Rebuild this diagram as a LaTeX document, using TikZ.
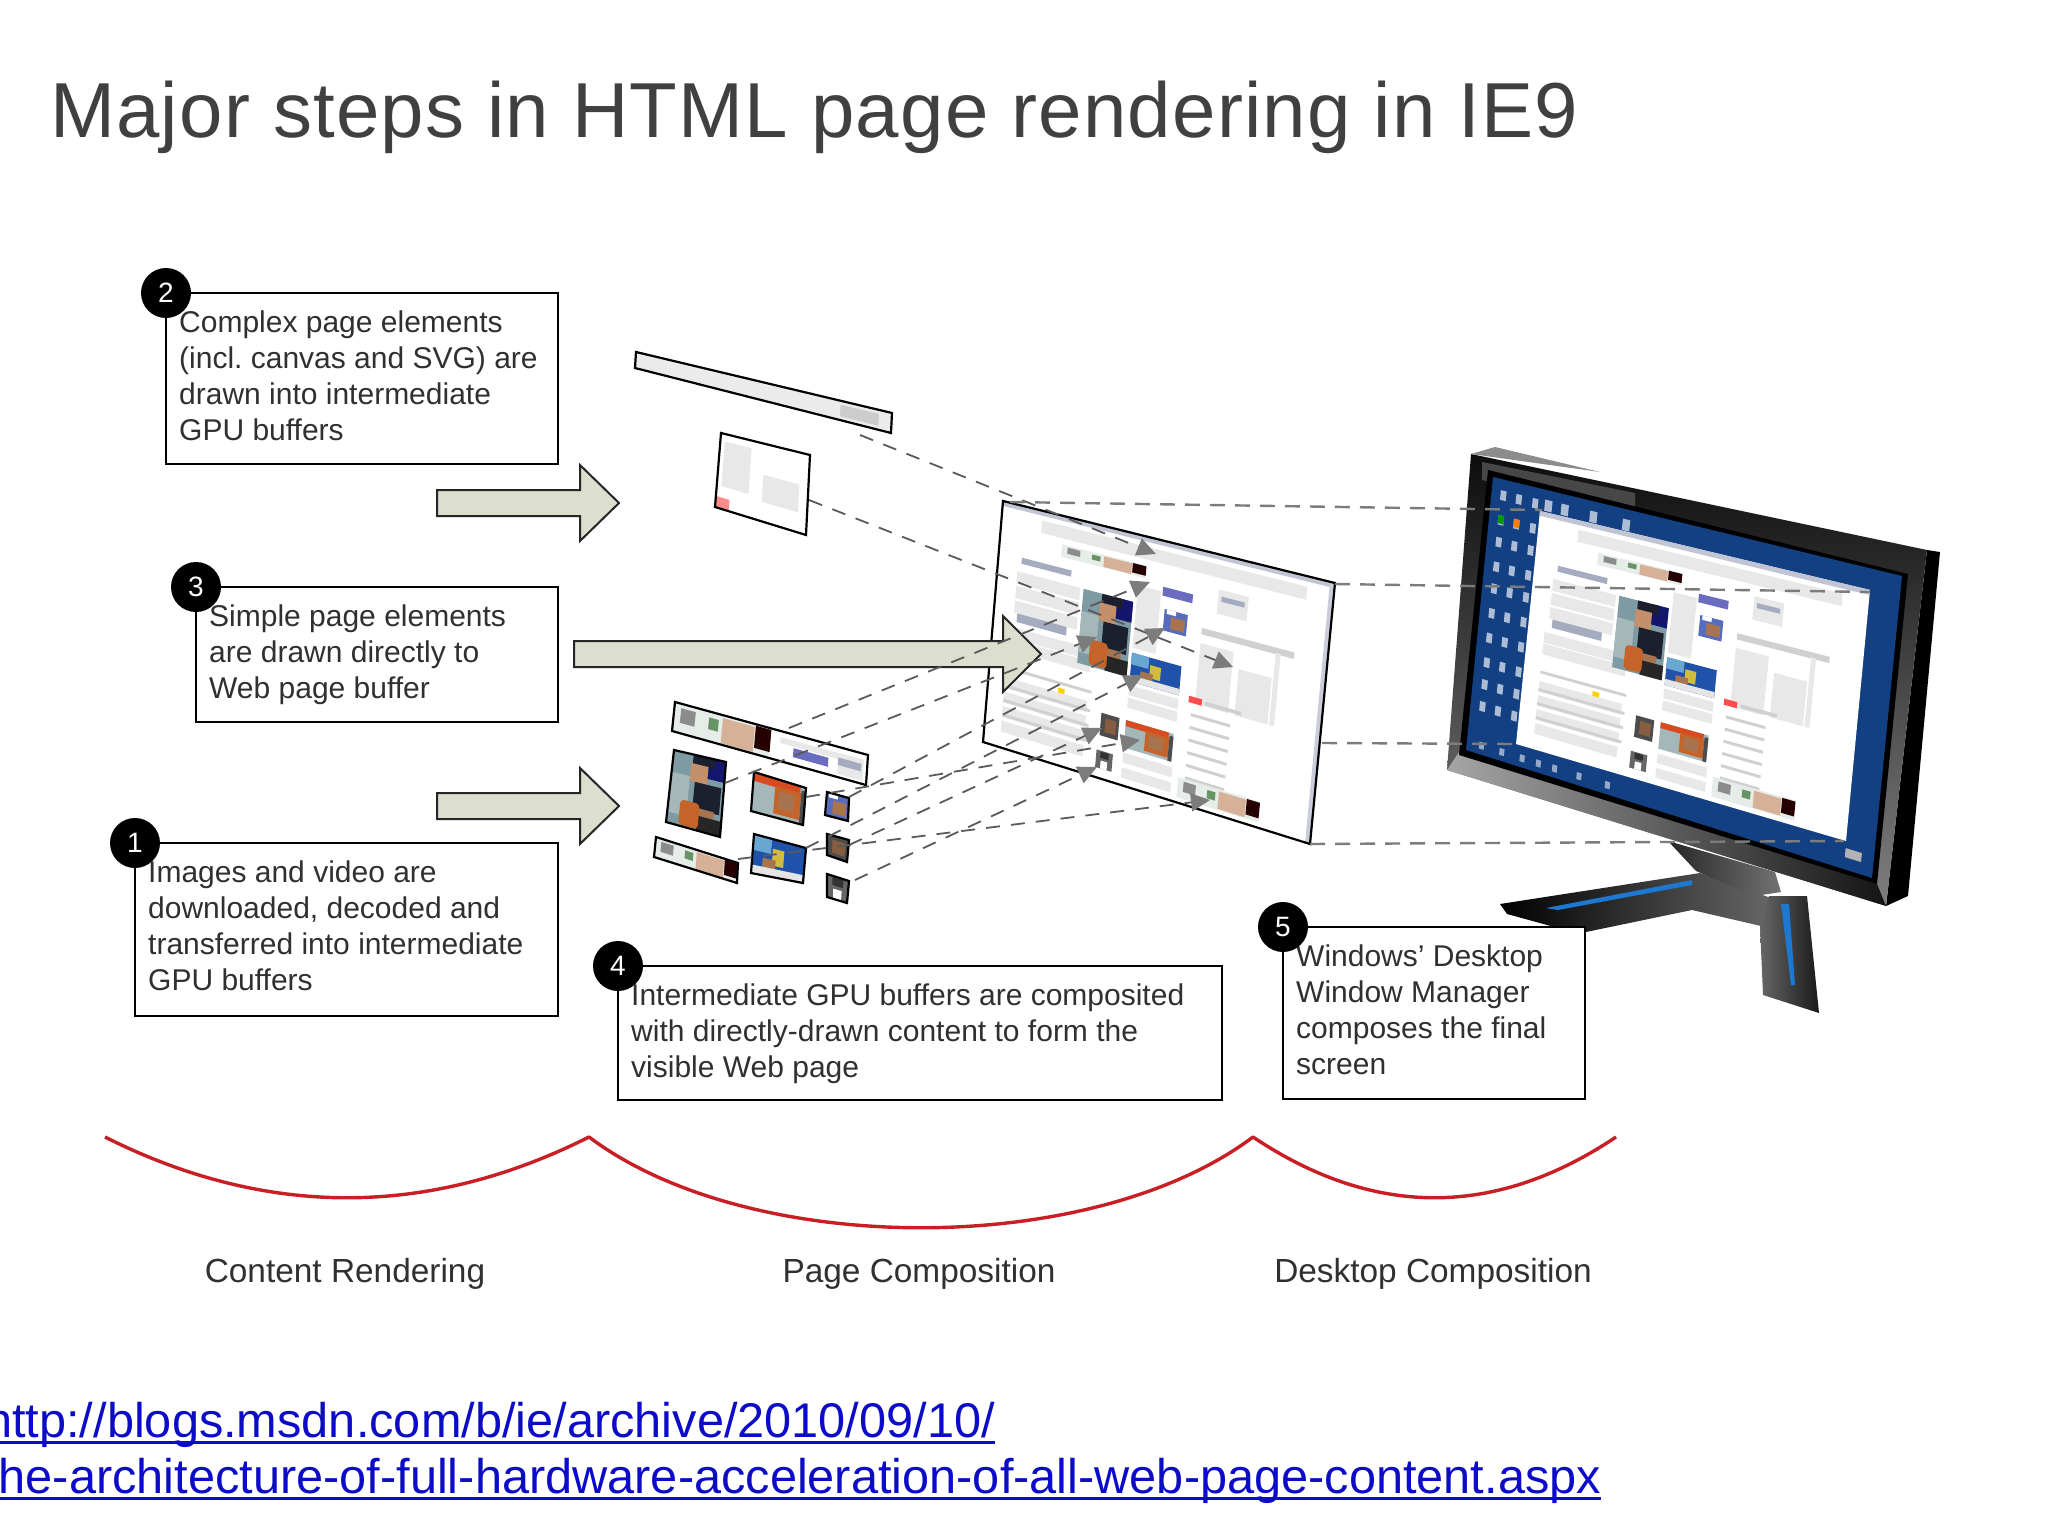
\documentclass[tikz,border=0pt]{standalone}
\usepackage{fontspec}
\setmainfont{Liberation Sans}
\usetikzlibrary{calc,arrows.meta}
\frenchspacing

\definecolor{titleink}{HTML}{404040}
\definecolor{boxink}{HTML}{303030}
\definecolor{arrowfill}{HTML}{DDDFCE}
\definecolor{linkblue}{HTML}{0B0BC8}
\definecolor{curvered}{HTML}{C81E24}
\definecolor{dashink}{HTML}{5A5A5A}
\definecolor{tipgray}{HTML}{7C7C7C}
\definecolor{screenblue}{HTML}{124083}
\definecolor{txtblock}{HTML}{E8E8E8}
\definecolor{txtline}{HTML}{D0D0D0}
\definecolor{txthead}{HTML}{A6ACC0}
\definecolor{skin}{HTML}{C4906C}
\definecolor{skindark}{HTML}{A87450}
\definecolor{ballorange}{HTML}{C4642A}
\definecolor{jersey}{HTML}{1C1F2E}
\definecolor{wallgray}{HTML}{7E9AA2}
\definecolor{walllight}{HTML}{A4B8BA}
\definecolor{photored}{HTML}{D84A20}
\definecolor{photoblue}{HTML}{1F52A8}
\definecolor{photosky}{HTML}{6AA6D2}
\definecolor{photoyellow}{HTML}{D2BC3E}
\definecolor{stripeblue}{HTML}{1C78D0}
\definecolor{btnpurple}{HTML}{6A6CC0}
\definecolor{bannerbg}{HTML}{E6ECE8}

% point (u,v) of the current frame, and a filled patch in it
\def\fr{p}
\newcommand\fq[2]{($($(\fr TL)!#1!(\fr TR)$)!#2!($(\fr BL)!#1!(\fr BR)$)$)}
\newcommand\patch[5]{\fill[#1] \fq{#2}{#3} -- \fq{#4}{#3} -- \fq{#4}{#5} -- \fq{#2}{#5} -- cycle;}
\newcommand\setframe[4]{\coordinate (pTL) at (#1); \coordinate (pTR) at (#2); \coordinate (pBR) at (#3); \coordinate (pBL) at (#4);}
\newcommand\photo[5]{\path \fq{#2}{#3} coordinate (qTL) \fq{#4}{#3} coordinate (qTR)
  \fq{#2}{#5} coordinate (qBL) \fq{#4}{#5} coordinate (qBR); \def\fr{q} #1 \def\fr{p}}
\newcommand\frameline{\draw[black, line width=2.2pt] (pTL) -- (pTR) -- (pBR) -- (pBL) -- cycle;}

% the pictures on the page
\newcommand\imgplayer{\patch{wallgray}{0}{0}{1}{1} \patch{walllight}{0}{.3}{.35}{.85}
  \patch{jersey!70!blue}{.65}{0}{1}{.28} \patch{jersey}{.38}{0}{.8}{.13} \patch{skin}{.35}{.12}{.68}{.36}
  \patch{jersey}{.45}{.36}{.95}{.72} \patch{skindark}{.35}{.7}{.85}{.8}
  \patch{black!85}{.55}{.8}{1}{1} \fill[ballorange, rounded corners=4pt] \fq{.22}{.64} -- \fq{.58}{.64} -- \fq{.58}{.98} -- \fq{.22}{.98} -- cycle;}
\newcommand\imgred{\patch{walllight}{0}{0}{1}{1} \patch{photored}{0}{0}{.9}{.22}
  \patch{ballorange}{.42}{.18}{.92}{.9} \patch{skindark}{.5}{.3}{.8}{.75} \patch{black!70}{.92}{.1}{1}{1}}
\newcommand\imgblue{\patch{photoblue}{0}{0}{1}{1} \patch{photosky}{0}{0}{.35}{.4}
  \patch{photoyellow}{.38}{.25}{.6}{.7} \patch{skindark}{.2}{.55}{.45}{.8} \patch{white!80!gray}{0}{.78}{1}{1}}
\newcommand\imgkid{\patch{wallgray!70!blue}{0}{0}{1}{1} \patch{skindark}{.3}{.3}{.9}{.85} \patch{white!70}{.1}{0}{.5}{.2}}
\newcommand\imgface{\patch{black!70}{0}{0}{1}{1} \patch{skindark!80!black}{.25}{.2}{.85}{.8}}
\newcommand\imgman{\patch{black!60}{0}{0}{1}{1} \patch{white!65}{.3}{.55}{.7}{1} \patch{black!80}{.25}{.05}{.75}{.4}}
\newcommand\imgbanner{\patch{bannerbg}{0}{0}{1}{1} \patch{black!45}{.07}{.15}{.22}{.65}
  \patch{green!30!black!60}{.36}{.2}{.46}{.6} \patch{skin!70!white}{.5}{.1}{.83}{.95} \patch{black!85!red}{.84}{.05}{1}{.8}}

\newcommand\webpage{\patch{white}{0}{0}{1}{1}
  \patch{txthead!70!white}{0}{0}{1}{.02}
  \patch{txtblock}{.12}{.04}{.92}{.09}
  \foreach \v in {.27,.33,.39} {\patch{txtblock}{.06}{\v}{.25}{\v+.05}}
  \patch{txthead}{.07}{.21}{.22}{.235}
  \patch{txthead}{.07}{.44}{.22}{.475}
  \foreach \v in {.5,.55,.71,.77,.83,.89} {\patch{txtblock}{.05}{\v}{.3}{\v+.045}}
  \foreach \v in {.665,.74,.80,.86} {\patch{txtline}{.05}{\v}{.31}{\v+.012}}
  \foreach \v in {.6,.65,.87,.93} {\patch{txtblock}{.42}{\v}{.57}{\v+.04}}
  \patch{txtblock}{.42}{.2}{.49}{.45}
  \foreach \v in {.64,.69,.74,.79,.84,.89} {\patch{txtline}{.61}{\v}{.73}{\v+.012}}
  \patch{txtline}{.62}{.3}{.9}{.325}
  \patch{txtblock}{.62}{.36}{.72}{.6}
  \patch{txtblock}{.74}{.42}{.84}{.6}
  \patch{red!70!white}{.6}{.575}{.64}{.6}
  \patch{txtline}{.65}{.58}{.76}{.595}
  \patch{txtblock}{.845}{.32}{.86}{.6}
  \patch{btnpurple}{.495}{.18}{.585}{.215}
  \patch{txtblock}{.66}{.135}{.75}{.23} \patch{txthead}{.67}{.16}{.74}{.18}
  \patch{yellow!70!orange}{.21}{.69}{.23}{.71}
  \photo{\imgbanner}{.185}{.115}{.44}{.165}
  \photo{\imgplayer}{.26}{.27}{.41}{.57}
  \photo{\imgkid}{.505}{.265}{.575}{.35}
  \photo{\imgblue}{.42}{.47}{.57}{.585}
  \photo{\imgred}{.42}{.74}{.565}{.85}
  \photo{\imgface}{.345}{.74}{.40}{.83}
  \photo{\imgman}{.34}{.89}{.39}{.96}
  \photo{\imgbanner}{.59}{.9}{.84}{.98}}

\tikzset{
  textbox/.style={draw=black, line width=2pt, fill=white, anchor=north west, inner sep=0pt, outer sep=0pt},
  boxtext/.style={anchor=north west, inner sep=0pt, align=left, text=boxink, font=\fontsize{30}{36}\selectfont},
  numdot/.style={circle, fill=black, inner sep=0pt, minimum size=50pt, text=white, font=\fontsize{28}{30}\selectfont},
  flowarrow/.style={draw=black!85, line width=2pt, fill=arrowfill, line join=miter},
  steplabel/.style={inner sep=0pt, anchor=base, text=boxink, font=\fontsize{33.4}{36}\selectfont},
  linktext/.style={inner sep=0pt, anchor=base west, text=linkblue, font=\fontsize{48.7}{56}\selectfont},
  dashline/.style={draw=dashink, line width=1.8pt, dash pattern=on 14pt off 11pt, -{Triangle[length=19pt,width=18pt,color=tipgray,fill=tipgray]}},
  dashplain/.style={draw=tipgray, line width=2.4pt, dash pattern=on 15pt off 10pt}
}

\begin{document}
\begin{tikzpicture}[x=1pt, y=-1pt]
  \useasboundingbox (0,0) rectangle (2048,1536);

  \node[anchor=base west, inner sep=0pt, text=titleink, font=\fontsize{78}{90}\selectfont\addfontfeature{LetterSpace=1.6}] (title) at (50,138) {Major steps in HTML page rendering in IE9};

  % monitor: stand first, then the screen
  \shade[left color=black, right color=black!60] (1500,904) -- (1700,873) -- (1771,898) -- (1761,926) -- (1692,910) -- (1586,932) -- (1558,928) -- (1507,914) -- cycle;
  \fill[stripeblue] (1546,908) -- (1692,880) -- (1692,885) -- (1558,910) -- cycle;
  \shade[left color=black!85, right color=black!55] (1668,841) -- (1775,872) -- (1781,892) -- (1755,896) -- (1696,871) -- cycle;
  \shade[left color=black!60, right color=black!90] (1769,896) -- (1807,896) -- (1819,1013) -- (1763,995) -- (1760,926) -- cycle;
  \fill[stripeblue] (1781,904) -- (1789,904) -- (1795,985) -- (1791,985) -- cycle;
  \fill[black] (1927,550) -- (1940,552) -- (1908,896) -- (1886,906) -- cycle;
  \shade[top color=black!95, bottom color=black!50] (1471,454) -- (1927,550) -- (1886,906) -- (1447,770) -- cycle;
  \shade[left color=black!35, right color=black!92] (1447,770) -- (1459,752) -- (1877,884) -- (1886,906) -- cycle;
  \fill[black!72] (1482,462) -- (1635,493) -- (1635,513) -- (1482,480) -- cycle;
  \fill[black!45] (1495,447) -- (1600,472) -- (1471,454) -- cycle;
  \fill[black] (1488,470) -- (1908,574) -- (1877,884) -- (1459,755) -- cycle;
  \setframe{1493,477}{1902,576}{1872,878}{1466,750}
  \patch{screenblue}{0}{0}{1}{1}
  \foreach \v in {.04,.13,.21,.3,.38,.47,.56,.65,.73,.81} {
    \foreach \u in {.022,.06,.1} {\patch{white!65!screenblue}{\u}{\v}{\u+.014}{\v+.035}}}
  \foreach \u/\c in {.022/green!60!black,.06/orange} {\patch{\c}{\u}{.13}{\u+.014}{.16}}
  \foreach \u in {.13,.17,.24,.32} {\patch{white!65!screenblue}{\u}{.035}{\u+.018}{.075}}
  \foreach \u in {.03,.08,.13,.17,.21,.27,.34} {\patch{white!55!screenblue}{\u}{.955}{\u+.012}{.98}}
  \patch{black!30}{.93}{.93}{.97}{.96}
  \setframe{1540,511}{1870,590}{1846,841}{1516,744}
  \webpage

  % layers and the page they end up in
  \setframe{636,352}{892,413}{891,433}{635,368}
  \patch{black!8}{0}{0}{1}{1} \patch{black!20}{.8}{.2}{.95}{.8} \frameline
  \setframe{721,433}{810,455}{806,535}{715,507}
  \patch{white}{0}{0}{1}{1} \patch{txtblock}{.05}{.1}{.35}{.7} \patch{txtblock}{.5}{.4}{.9}{.75} \patch{red!45}{0}{.85}{.15}{1} \frameline
  \setframe{675,702}{868,755}{866,785}{672,731}
  \patch{white}{0}{0}{1}{1} \photo{\imgbanner}{0}{0}{.5}{1}
  \patch{txtblock}{.55}{.2}{.98}{.4} \patch{btnpurple}{.62}{.45}{.8}{.75} \patch{txtblock}{.85}{.2}{.98}{.9} \patch{txthead}{.85}{.35}{.97}{.6} \frameline
  \setframe{674,750}{726,762}{720,837}{666,822} \photo{\imgplayer}{0}{0}{1}{1} \frameline
  \setframe{754,772}{806,788}{803,825}{751,811} \photo{\imgred}{0}{0}{1}{1} \frameline
  \setframe{827,792}{849,798}{848,821}{825,815} \photo{\imgkid}{0}{0}{1}{1} \frameline
  \setframe{656,837}{738,863}{737,883}{654,857} \photo{\imgbanner}{0}{0}{1}{1} \frameline
  \setframe{754,834}{806,848}{803,883}{751,873} \photo{\imgblue}{0}{0}{1}{1} \frameline
  \setframe{827,834}{849,840}{847,862}{827,855} \photo{\imgface}{0}{0}{1}{1} \frameline
  \setframe{827,874}{849,881}{847,903}{827,897} \photo{\imgman}{0}{0}{1}{1} \frameline
  \setframe{1003,501}{1335,583}{1310,844}{983,742}
  \webpage
  \patch{txthead!60!white}{.985}{0}{1}{1}
  \frameline

  % the three big arrows
  \foreach \xa/\xb/\xc/\ya in {437/580/619/503, 574/1003/1041/654, 437/580/619/806}
    \draw[flowarrow] (\xa,\ya-13) -- (\xb,\ya-13) -- (\xb,\ya-38) -- (\xc,\ya) -- (\xb,\ya+38) -- (\xb,\ya+13) -- (\xa,\ya+13) -- cycle;

  % dashed links, layer to page
  \foreach \n/\x/\y in {sa/860/435, sb/809/500, sc/789/728, sd/725/783, se/806/848, sf/806/797, sg/849/797, sh/849/845, si/855/880, sj/738/859,
      ta/1156/554, tb/1233/667, tc/1150/582, td/1097/637, te/1143/675, tf/1140/740, tg/1165/628, th/1102/728, ti/1097/767, tj/1210/800}
    \coordinate (\n) at (\x,\y);
  \foreach \a/\b in {sa/ta, sb/tb, sc/tc, sd/td, se/te, sf/tf, sg/tg, sh/th, si/ti, sj/tj}
    \draw[dashline] (\a) -- (\b);
  % dashed links, page to screen
  \foreach \n/\xa/\ya/\xb/\yb in {1/1010/502/1542/510, 2/1335/584/1870/592, 3/1322/743/1516/744, 4/1310/844/1844/841} {
    \coordinate (pg\n) at (\xa,\ya);
    \coordinate (sc\n) at (\xb,\yb);
    \draw[dashplain] (pg\n) -- (sc\n);
  }

  % numbered text boxes
  \foreach \id/\xa/\ya/\w/\h/\txt in {
      2/166/293/392/171/{Complex page elements\\(incl. canvas and SVG) are\\drawn into intermediate\\GPU buffers},
      3/196/587/362/135/{Simple page elements\\are drawn directly to\\Web page buffer},
      1/135/843/423/173/{Images and video are\\downloaded, decoded and\\transferred into intermediate\\GPU buffers},
      4/618/966/604/134/{Intermediate GPU buffers are composited\\with directly-drawn content to form the\\visible Web page},
      5/1283/927/302/172/{Windows’ Desktop\\Window Manager\\composes the final\\screen}} {
    \node[textbox, minimum width=\w pt, minimum height=\h pt] (box\id) at (\xa,\ya) {};
    \node[boxtext] (txt\id) at (\xa+13,\ya+18) {\txt};
    \node[numdot] (dot\id) at (box\id.north west) {\id};
  }

  % the three stages
  \coordinate (c0) at (105,1137);
  \coordinate (c1) at (589,1137);
  \coordinate (c2) at (1253,1137);
  \coordinate (c3) at (1616,1137);
  \draw[curvered, line width=3.4pt, line join=round] (c0) .. controls (266,1218) and (428,1218) .. (c1)
    .. controls (750,1258) and (1092,1258) .. (c2) .. controls (1374,1218) and (1495,1218) .. (c3);
  \node[steplabel] (stageA) at (345,1282) {Content Rendering};
  \node[steplabel] (stageB) at (919,1282) {Page Composition};
  \node[steplabel] (stageC) at (1433,1282) {Desktop Composition};

  % link, cut by the left edge
  \node[linktext] (linkA) at (-15,1437) {http://blogs.msdn.com/b/ie/archive/2010/09/10/};
  \node[linktext] (linkB) at (-15,1493) {the-architecture-of-full-hardware-acceleration-of-all-web-page-content.aspx};
  \draw[linkblue, line width=3pt] ([yshift=-5pt]linkA.base west) -- ([yshift=-5pt]linkA.base east);
  \draw[linkblue, line width=3pt] ([yshift=-5pt]linkB.base west) -- ([yshift=-5pt]linkB.base east);
\end{tikzpicture}
\end{document}
